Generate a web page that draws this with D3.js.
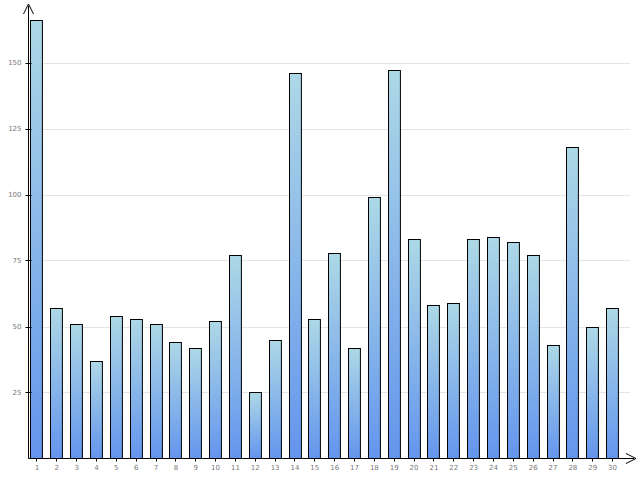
<!DOCTYPE html>
<html><head><meta charset="utf-8">
<script src="https://cdn.jsdelivr.net/npm/d3@7"></script>
<style>body{margin:0;background:#fff}</style>
</head><body>
<svg id="chart" width="640" height="480"></svg>
<script>
const days = d3.range(1, 31).map(String);
const values = [166,57,51,37,54,53,51,44,42,52,77,25,45,146,53,78,42,99,147,83,58,59,83,84,82,77,43,118,50,57];
const yTicks = [25,50,75,100,125,150];

const svg = d3.select("#chart");
const padL = 28.5, padR = 630, padT = 5, padB = 458.5;

const x = d3.scaleBand().domain(days).range([padL, 620]).paddingInner(0.4).paddingOuter(0.1);
const y = d3.scaleLinear().domain([0, 25 * (padB - padT) / 66]).range([padB, padT]);

const grad = svg.append("defs").append("linearGradient")
    .attr("id", "g").attr("x1", 0).attr("y1", 0).attr("x2", 0).attr("y2", 1);
grad.append("stop").attr("offset", "0%").attr("stop-color", "#add8e6");
grad.append("stop").attr("offset", "100%").attr("stop-color", "#6495ed");

// grid
svg.selectAll(".grid").data(yTicks).enter().append("line")
    .attr("x1", padL).attr("x2", padR)
    .attr("y1", d => Math.round(y(d)) + 0.5).attr("y2", d => Math.round(y(d)) + 0.5)
    .attr("stroke", "#e4e4e4");

// bars
svg.selectAll(".bar").data(values).enter().append("rect")
    .attr("x", (d, i) => Math.round(x(days[i])) + 0.5)
    .attr("y", d => Math.round(y(d)) + 0.5)
    .attr("width", x.bandwidth())
    .attr("height", d => padB - Math.round(y(d)) - 0.5)
    .attr("fill", "url(#g)").attr("stroke", "#000").attr("stroke-width", 1);

// axes
svg.append("line").attr("x1", padL).attr("x2", padL).attr("y1", padB).attr("y2", 6).attr("stroke", "#000");
svg.append("line").attr("x1", padL).attr("x2", 634).attr("y1", padB).attr("y2", padB).attr("stroke", "#000");
svg.append("path").attr("d", `M${padL - 5},14 L${padL},4 L${padL + 5},14`).attr("fill", "none").attr("stroke", "#000");
svg.append("path").attr("d", `M626,${padB - 5} L636,${padB} L626,${padB + 5}`).attr("fill", "none").attr("stroke", "#000");

svg.selectAll(".yt").data(yTicks).enter().append("line")
    .attr("x1", padL - 3).attr("x2", padL + 3)
    .attr("y1", d => Math.round(y(d)) + 0.5).attr("y2", d => Math.round(y(d)) + 0.5)
    .attr("stroke", "#000");
svg.selectAll(".yl").data(yTicks).enter().append("text")
    .attr("x", padL - 7).attr("y", d => y(d) + 2.5)
    .attr("text-anchor", "end").attr("font-family", "DejaVu Sans").attr("font-size", 7)
    .attr("fill", "#777").text(d => d);

svg.selectAll(".xt").data(days).enter().append("line")
    .attr("x1", d => Math.round(x(d) + x.bandwidth() / 2) + 0.5)
    .attr("x2", d => Math.round(x(d) + x.bandwidth() / 2) + 0.5)
    .attr("y1", padB).attr("y2", padB + 3).attr("stroke", "#000");
svg.selectAll(".xl").data(days).enter().append("text")
    .attr("x", d => x(d) + x.bandwidth() / 2 + 0.5).attr("y", padB + 11)
    .attr("text-anchor", "middle").attr("font-family", "DejaVu Sans").attr("font-size", 7)
    .attr("fill", "#777").text(d => d);
</script>
</body></html>
